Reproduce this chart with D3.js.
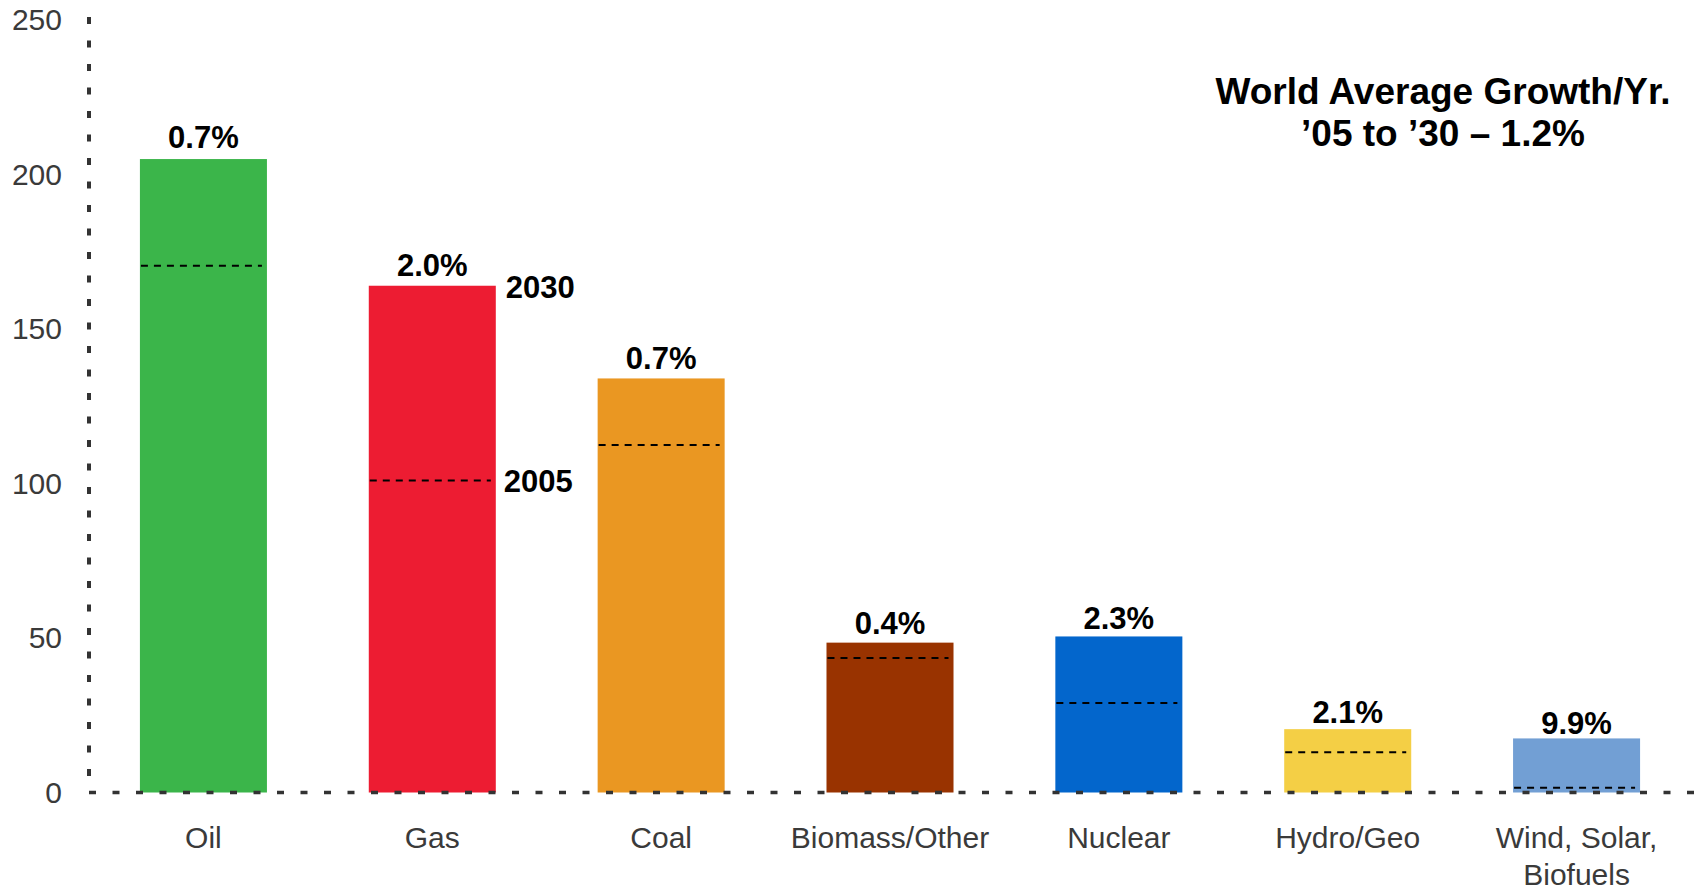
<!DOCTYPE html>
<html>
<head>
<meta charset="utf-8">
<script src="https://cdn.jsdelivr.net/npm/d3@7"></script>
<style>
    html, body { margin: 0; padding: 0; background: #fff; }
    svg { display: block; font-family: 'Liberation Sans', Arial, sans-serif; }
</style>
</head>
<body>
<svg width="1696" height="891"></svg>
<script>
const categories = ['Oil', 'Gas', 'Coal', 'Biomass/Other', 'Nuclear', 'Hydro/Geo', 'Wind, Solar,\nBiofuels'];
const values2030 = [205, 164, 134, 48.5, 50.5, 20.5, 17.5];
const values2005 = [170.5, 101, 112.5, 43.5, 29, 13, 1.5];
const growthLabels = ['0.7%', '2.0%', '0.7%', '0.4%', '2.3%', '2.1%', '9.9%'];
const barColors = ['#3bb54a', '#ed1c32', '#ea9722', '#993300', '#0366cc', '#f4cf45', '#729fd4'];
// gap (px) between bar top and its growth label, as placed in the original
const labelGaps = [11, 10, 9, 8.5, 7.5, 6, 4];
const yTicks = [0, 50, 100, 150, 200, 250];
const titleLines = ['World Average Growth/Yr.', '\u201905 to \u201930 \u2013 1.2%'];

const rows = categories.map((c, i) => ({
    name: c,
    v2030: values2030[i],
    v2005: values2005[i],
    growth: growthLabels[i],
    color: barColors[i],
    gap: labelGaps[i],
}));

const svg = d3.select('svg');
const plotLeft = 89, plotRight = 1691, plotTop = 20, plotBottom = 792.5;

const x = d3.scaleBand()
    .domain(categories)
    .range([plotLeft, plotRight])
    .paddingInner(0.445)
    .paddingOuter(0.2225);
const y = d3.scaleLinear()
    .domain([0, 250])
    .range([plotBottom, plotTop]);

// *** bars ***
svg.append('g')
    .selectAll('rect')
    .data(rows)
    .enter()
    .append('rect')
    .attr('x', d => x(d.name))
    .attr('y', d => y(d.v2030))
    .attr('width', x.bandwidth())
    .attr('height', d => y(0) - y(d.v2030))
    .attr('fill', d => d.color);

// *** 2005 markers ***
svg.append('g')
    .selectAll('line')
    .data(rows)
    .enter()
    .append('line')
    .attr('x1', d => x(d.name) + 1)
    .attr('x2', d => x(d.name) + x.bandwidth() - 5)
    .attr('y1', d => y(d.v2005))
    .attr('y2', d => y(d.v2005))
    .attr('stroke', '#000')
    .attr('stroke-width', 2)
    .attr('stroke-dasharray', '7,6');

// *** growth labels ***
svg.append('g')
    .selectAll('text')
    .data(rows)
    .enter()
    .append('text')
    .attr('x', d => x(d.name) + x.bandwidth() / 2)
    .attr('y', d => y(d.v2030) - d.gap)
    .attr('text-anchor', 'middle')
    .attr('font-size', 31)
    .attr('font-weight', 'bold')
    .attr('fill', '#000')
    .text(d => d.growth);

// year callouts next to the gas bar
const gas = rows[1];
svg.append('text')
    .attr('x', x(gas.name) + x.bandwidth() + 10)
    .attr('y', y(gas.v2030) + 12)
    .attr('font-size', 31)
    .attr('font-weight', 'bold')
    .text('2030');
svg.append('text')
    .attr('x', x(gas.name) + x.bandwidth() + 8)
    .attr('y', y(gas.v2005) + 12)
    .attr('font-size', 31)
    .attr('font-weight', 'bold')
    .text('2005');

// *** axes ***
const yAxis = svg.append('g')
    .attr('transform', `translate(${plotLeft},0)`)
    .call(d3.axisLeft(y).tickValues(yTicks).tickSize(0).tickPadding(27));
yAxis.select('.domain').remove();
yAxis.selectAll('text')
    .attr('font-size', 30)
    .attr('font-family', 'Liberation Sans, Arial, sans-serif')
    .attr('fill', '#3a3a3a');

svg.append('line')
    .attr('x1', plotLeft)
    .attr('x2', plotLeft)
    .attr('y1', 17)
    .attr('y2', plotBottom)
    .attr('stroke', '#333')
    .attr('stroke-width', 4)
    .attr('stroke-dasharray', '7,16.5');

svg.append('line')
    .attr('x1', plotLeft)
    .attr('x2', 1696)
    .attr('y1', y(0))
    .attr('y2', y(0))
    .attr('stroke', '#333')
    .attr('stroke-width', 3.5)
    .attr('stroke-dasharray', '7,16.5');

const xLabels = svg.append('g')
    .selectAll('text')
    .data(rows)
    .enter()
    .append('text')
    .attr('x', d => x(d.name) + x.bandwidth() / 2)
    .attr('y', 848)
    .attr('text-anchor', 'middle')
    .attr('font-size', 30)
    .attr('fill', '#3a3a3a');
xLabels.selectAll('tspan')
    .data(d => d.name.split('\n'))
    .enter()
    .append('tspan')
    .attr('x', function () { return d3.select(this.parentNode).attr('x'); })
    .attr('dy', (d, i) => i === 0 ? 0 : 37)
    .text(d => d);

// *** title ***
svg.append('g')
    .selectAll('text')
    .data(titleLines)
    .enter()
    .append('text')
    .attr('x', 1443)
    .attr('y', (d, i) => 104 + i * 42)
    .attr('text-anchor', 'middle')
    .attr('font-size', 37)
    .attr('font-weight', 'bold')
    .attr('fill', '#000')
    .text(d => d);
</script>
</body>
</html>
